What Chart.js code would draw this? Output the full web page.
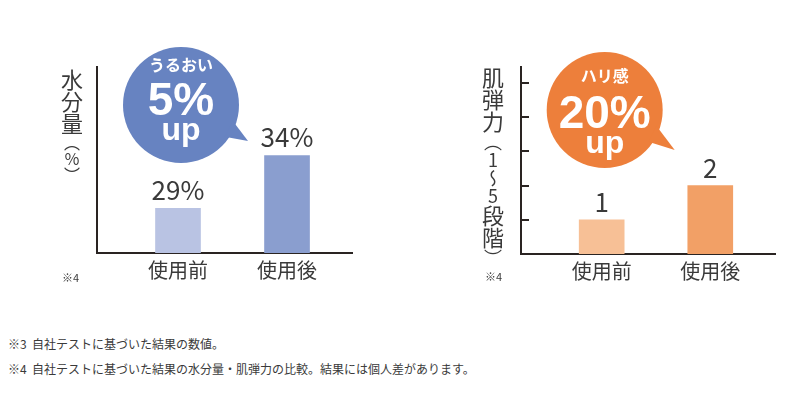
<!DOCTYPE html>
<html>
<head>
<meta charset="utf-8">
<script src="https://cdn.jsdelivr.net/npm/chart.js@4"></script>
<style>
  body { margin: 0; background: #fff; width: 804px; height: 396px; position: relative; overflow: hidden; font-family: 'Noto Sans CJK JP', sans-serif; color: #3a3a3a; }
  .box { position: absolute; top: 0; width: 402px; height: 300px; }
  .ytitle { position: absolute; writing-mode: vertical-rl; text-orientation: upright; font-size: 22px; line-height: 1; white-space: nowrap; }
  .ytitle span { font-size: 16px; }
  .ytitle span.big { font-size: 18px; }
  .note { position: absolute; font-size: 11px; line-height: 1; }
  .foot { position: absolute; left: 8px; font-size: 12px; line-height: 1; white-space: nowrap; }
</style>
</head>
<body>
<div class="box" style="left:0"><canvas id="moistureChart"></canvas></div>
<div class="box" style="left:402px"><canvas id="elasticityChart"></canvas></div>

<div class="ytitle" style="left:61px; top:69px">水分量<span>（％）</span></div>
<div class="ytitle" style="left:482px; top:67px">肌弾力<span class="big">（1〜5</span>段階<span class="big">）</span></div>
<div class="note" style="left:62px; top:272px">※4</div>
<div class="note" style="left:485px; top:271px">※4</div>

<div class="foot" style="top:338px">※3&nbsp;&nbsp;自社テストに基づいた結果の数値。</div>
<div class="foot" style="top:363px">※4&nbsp;&nbsp;自社テストに基づいた結果の水分量・肌弾力の比較。結果には個人差があります。</div>

<script>
const categories = ['使用前', '使用後']
const moistureValues = [29, 34]
const elasticityValues = [1, 2]
const elasticityTicks = [1, 2, 3, 4, 5]

const axisColor = '#2a2422'
const textColor = '#3a3a3a'

Chart.defaults.font.family = "'Noto Sans CJK JP', sans-serif"
Chart.defaults.color = textColor

// numbers above each bar
const valueLabels = {
    id: 'valueLabels',
    afterDatasetsDraw(chart, args, opts) {
        const ctx = chart.ctx
        const meta = chart.getDatasetMeta(0)
        ctx.save()
        ctx.font = '400 26px "Noto Sans CJK JP"'
        ctx.fillStyle = textColor
        ctx.textAlign = 'center'
        ctx.textBaseline = 'alphabetic'
        meta.data.forEach((bar, i) => {
            ctx.fillText(chart.data.datasets[0].data[i].y + opts.suffix, bar.x, bar.y - 8)
        })
        ctx.restore()
    }
}

// speech bubble with the improvement
const bubble = {
    id: 'bubble',
    afterDatasetsDraw(chart, args, opts) {
        const ctx = chart.ctx
        const area = chart.chartArea
        const cx = chart.scales.x.getPixelForValue(0) + 3
        const cy = area.top + opts.dy
        const r = 58
        ctx.save()
        ctx.fillStyle = opts.color
        ctx.beginPath()
        ctx.arc(cx, cy, r, 0, Math.PI * 2)
        ctx.fill()
        const a1 = 17 * Math.PI / 180, a2 = 36 * Math.PI / 180
        ctx.beginPath()
        ctx.moveTo(cx + (r - 4) * Math.cos(a1), cy + (r - 4) * Math.sin(a1))
        ctx.lineTo(cx + opts.tip[0], cy + opts.tip[1])
        ctx.lineTo(cx + (r - 4) * Math.cos(a2), cy + (r - 4) * Math.sin(a2))
        ctx.closePath()
        ctx.fill()
        ctx.fillStyle = '#fff'
        ctx.textAlign = 'center'
        ctx.font = 'bold 16px "Noto Sans CJK JP"'
        ctx.textBaseline = 'middle'
        ctx.fillText(opts.title, cx, cy + opts.lines[0])
        ctx.textBaseline = 'alphabetic'
        ctx.font = 'bold 46px "Liberation Sans"'
        ctx.fillText(opts.rate, cx, cy + opts.lines[1])
        ctx.font = 'bold 32px "Liberation Sans"'
        ctx.fillText('up', cx, cy + opts.lines[2])
        ctx.restore()
    }
}

// small tick marks on the inner side of the y axis
const innerTicks = {
    id: 'innerTicks',
    afterDraw(chart, args, opts) {
        if (!opts.values) return
        const ctx = chart.ctx
        const y = chart.scales.y
        const left = chart.chartArea.left
        ctx.save()
        ctx.strokeStyle = axisColor
        ctx.lineWidth = 2
        opts.values.forEach(v => {
            const py = Math.round(y.getPixelForValue(v))
            ctx.beginPath()
            ctx.moveTo(left, py)
            ctx.lineTo(left + 8, py)
            ctx.stroke()
        })
        ctx.restore()
    }
}

function makeChart(id, values, colors, yMin, yMax, pad, extra) {
    return new Chart(document.getElementById(id), {
        type: 'bar',
        data: {
            datasets: [{
                data: values.map((v, i) => ({ x: i, y: v })),
                backgroundColor: colors,
                barThickness: 45
            }]
        },
        plugins: [valueLabels, bubble, innerTicks],
        options: {
            animation: false,
            responsive: false,
            layout: { padding: pad },
            plugins: {
                legend: { display: false },
                tooltip: { enabled: false },
                valueLabels: { suffix: extra.suffix },
                bubble: extra.bubble,
                innerTicks: { values: extra.ticks }
            },
            scales: {
                x: {
                    type: 'linear',
                    offset: false,
                    bounds: 'data',
                    min: -0.743,
                    max: 1.596,
                    afterBuildTicks: s => { s.ticks = categories.map((c, i) => ({ value: i })) },
                    ticks: {
                        callback: v => categories[v],
                        font: { size: 20 },
                        color: textColor,
                        padding: 5
                    },
                    grid: { display: false, drawTicks: false, offset: false },
                    border: { display: true, color: axisColor, width: 2 }
                },
                y: {
                    min: yMin,
                    max: yMax,
                    ticks: { display: false },
                    grid: { display: false, drawTicks: false },
                    border: { display: true, color: axisColor, width: 2 }
                }
            }
        }
    })
}

document.getElementById('moistureChart').width = 402
document.getElementById('moistureChart').height = 300
document.getElementById('elasticityChart').width = 402
document.getElementById('elasticityChart').height = 300

makeChart('moistureChart', moistureValues, ['#b9c3e3', '#8a9ecf'], 24.77, 42.37,
    { left: 97, right: 50, top: 67, bottom: 13 },
    {
        suffix: '%',
        bubble: { color: '#6783c1', dy: 38, tip: [67, 36], title: 'うるおい', rate: '5%', lines: [-40, 10, 35] }
    })

makeChart('elasticityChart', elasticityValues, ['#f7c096', '#f2a066'], 0, 5.47,
    { left: 119, right: 29, top: 67, bottom: 12 },
    {
        suffix: '',
        ticks: elasticityTicks,
        bubble: { color: '#ed7f3b', dy: 43, tip: [70, 40], title: 'ハリ感', rate: '20%', lines: [-34, 18, 43] }
    })
</script>
</body>
</html>
